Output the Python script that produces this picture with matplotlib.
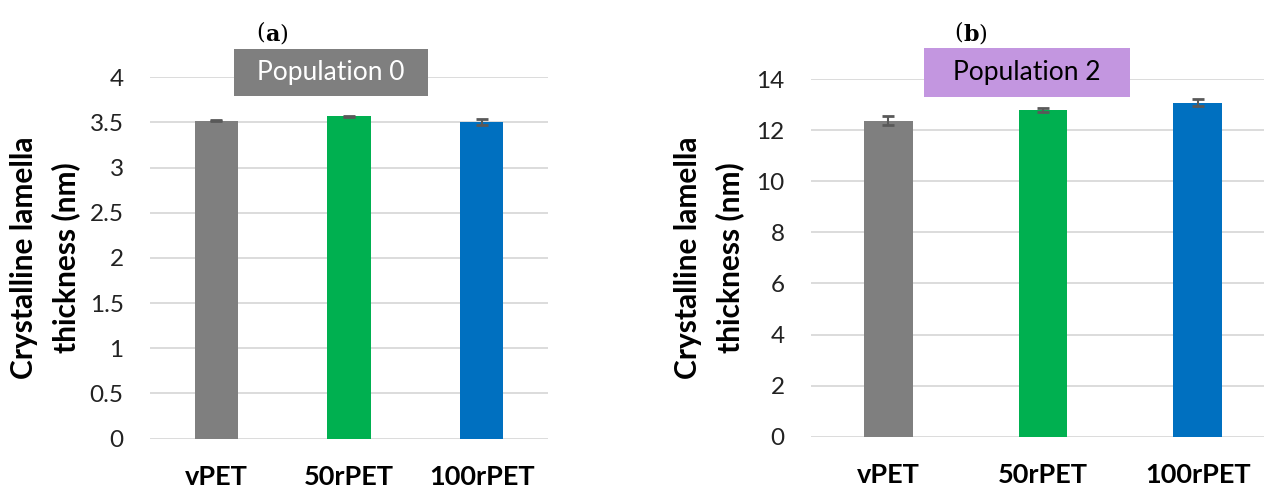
import matplotlib
matplotlib.use("Agg")
import matplotlib.pyplot as plt
from matplotlib.patches import Rectangle

categories = ["vPET", "50rPET", "100rPET"]
pop0_values = [3.52, 3.57, 3.505]
pop0_errors = [0.005, 0.006, 0.028]
pop2_values = [12.37, 12.79, 13.08]
pop2_errors = [0.17, 0.07, 0.12]
bar_colors = ["#7F7F7F", "#00B050", "#0070C0"]
pop0_ticks = [0, 0.5, 1, 1.5, 2, 2.5, 3, 3.5, 4]
pop0_ticklabels = ["0", "0.5", "1", "1.5", "2", "2.5", "3", "3.5", "4"]
pop2_ticks = [0, 2, 4, 6, 8, 10, 12, 14]
ylabel = "Crystalline lamella\nthickness (nm)"

W, H = 1264, 491
fig = plt.figure(figsize=(W / 100, H / 100), dpi=100)
fig.patch.set_facecolor("white")
plt.rcParams["mathtext.fontset"] = "dejavuserif"

FONT = "Lato"


def px_axes(x0, x1, y_top, y_bot):
    return fig.add_axes([x0 / W, (H - y_bot) / H, (x1 - x0) / W, (y_bot - y_top) / H])


def style(ax, ymax, ticks, ticklabels, label_x):
    ax.set_xlim(-0.5, 2.5)
    ax.set_ylim(0, ymax)
    ax.set_yticks(ticks)
    ax.set_yticklabels(ticklabels, fontfamily=FONT, fontsize=17.5, color="#222222")
    ax.set_xticks(range(len(categories)))
    ax.set_xticklabels(categories, fontfamily=FONT, fontsize=19.5, fontweight="bold")
    ax.tick_params(axis="both", length=0)
    ax.tick_params(axis="y", pad=19)
    ax.tick_params(axis="x", pad=19)
    for s in ax.spines.values():
        s.set_visible(False)
    ax.grid(axis="y", color="#D9D9D9", linewidth=1.3)
    ax.set_axisbelow(True)
    ax.set_ylabel(ylabel, fontfamily=FONT, fontsize=21.5, fontweight="bold",
                  linespacing=1.55)
    ax.yaxis.set_label_coords(label_x, 0.5)


# Panel (a)
ax1 = px_axes(150, 548, 77.3, 438.5)
ax1.bar(range(3), pop0_values, width=0.325, color=bar_colors, zorder=2)
ax1.errorbar(range(3), pop0_values, yerr=pop0_errors, fmt="none", ecolor="#595959",
             elinewidth=1.5, capsize=4.5, capthick=2, zorder=3)
style(ax1, 4, pop0_ticks, pop0_ticklabels, (80 - 150) / 398)

# Panel (b)
ax2 = px_axes(811, 1275, 79, 436.7)
ax2.bar(range(3), pop2_values, width=0.316, color=bar_colors, zorder=2)
ax2.errorbar(range(3), pop2_values, yerr=pop2_errors, fmt="none", ecolor="#595959",
             elinewidth=1.5, capsize=4.5, capthick=2, zorder=3)
style(ax2, 14, pop2_ticks, [str(t) for t in pop2_ticks], (744 - 811) / 464)


def box(x0, x1, y0, y1, face, text, tcolor):
    fig.patches.append(Rectangle((x0 / W, (H - y1) / H), (x1 - x0) / W, (y1 - y0) / H,
                                 transform=fig.transFigure, facecolor=face,
                                 edgecolor="none", zorder=5))
    fig.text((x0 + x1) / 2 / W, (H - (y0 + y1) / 2) / H, text, ha="center", va="center",
             fontfamily=FONT, fontsize=19, color=tcolor, zorder=6)


box(234, 428, 49, 96, "#7F7F7F", "Population 0", "white")
box(924, 1130, 48, 97, "#C396E0", "Population 2", "black")


def panel_label(x, y, letter):
    fig.text(x / W, (H - y) / H, "(", ha="right", va="center",
             fontfamily="DejaVu Serif", fontsize=16)
    fig.text(x / W, (H - y) / H, r"$\mathbf{" + letter + "}$)", ha="left", va="center",
             fontfamily="DejaVu Serif", fontsize=16)


panel_label(265, 33, "a")
panel_label(963, 33, "b")

fig.savefig("out.png", dpi=100)
